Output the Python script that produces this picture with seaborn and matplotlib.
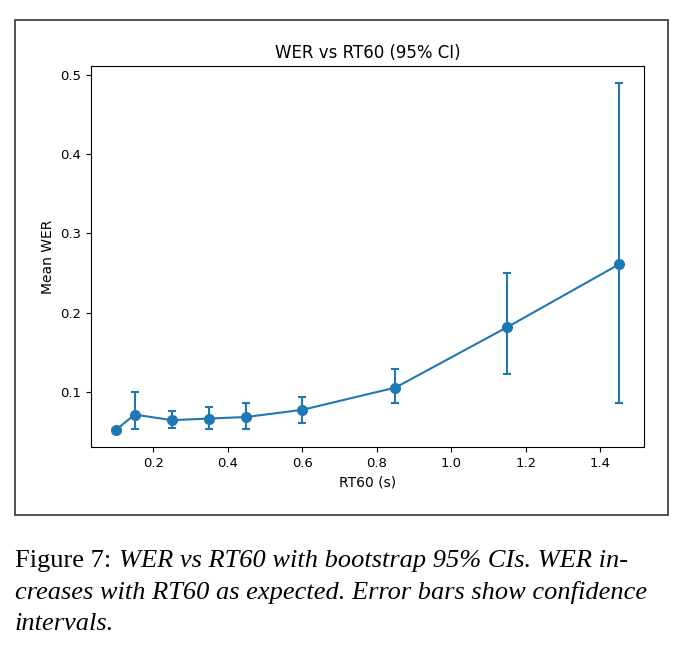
import matplotlib
matplotlib.use("Agg")
import matplotlib.pyplot as plt
import seaborn as sns
import pandas as pd
import numpy as np
from matplotlib.patches import Rectangle

rt60 = [0.10, 0.15, 0.25, 0.35, 0.45, 0.60, 0.85, 1.15, 1.45]
mean_wer = [0.053, 0.072, 0.065, 0.067, 0.069, 0.078, 0.106, 0.182, 0.261]
ci_low = [0.053, 0.054, 0.055, 0.054, 0.054, 0.062, 0.086, 0.123, 0.087]
ci_high = [0.053, 0.100, 0.077, 0.082, 0.086, 0.094, 0.130, 0.250, 0.489]

df = pd.DataFrame({"RT60 (s)": rt60, "Mean WER": mean_wer, "lo": ci_low, "hi": ci_high})

plt.rcParams["font.family"] = ["DejaVu Sans"]
fig = plt.figure(figsize=(6.85, 6.51), dpi=100)
ax = fig.add_axes([91/685, 1-447/651, (644-91)/685, (447-66)/651])

color = "#1f77b4"
yerr = np.array([df["Mean WER"] - df["lo"], df["hi"] - df["Mean WER"]])
ax.errorbar(df["RT60 (s)"], df["Mean WER"], yerr=yerr, fmt="none", ecolor=color,
            elinewidth=1.5, capsize=3, capthick=1.5)
sns.lineplot(data=df, x="RT60 (s)", y="Mean WER", marker="o", color=color,
             markersize=8, markeredgewidth=0, linewidth=1.5, ax=ax)
ax.set_title("WER vs RT60 (95% CI)", fontsize=12)
ax.set_xlabel("RT60 (s)", fontsize=10)
ax.set_ylabel("Mean WER", fontsize=10)
ax.tick_params(labelsize=9.5)
ax.set_xticks([0.2, 0.4, 0.6, 0.8, 1.0, 1.2, 1.4])
ax.set_yticks([0.1, 0.2, 0.3, 0.4, 0.5])

# outer frame around the figure image
fig.patches.append(Rectangle((15/685, 1-515/651), (668-15)/685, (515-20)/651,
                             transform=fig.transFigure, fill=False,
                             edgecolor="#333333", linewidth=1.2))

cap_kw = dict(fontsize=19, family=["Liberation Serif"], va="baseline", ha="left")
t0 = fig.text(15/685, 1-567/651, "Figure 7:", **cap_kw)
fig.canvas.draw()
bb = t0.get_window_extent()
x_it = (bb.x1 + 8) / fig.bbox.width
fig.text(x_it, 1-567/651,
         "WER vs RT60 with bootstrap 95% CIs. WER in-",
         **cap_kw, style="italic")
fig.text(15/685, 1-599/651,
         "creases with RT60 as expected. Error bars show confidence",
         **cap_kw, style="italic")
fig.text(15/685, 1-630/651, "intervals.", **cap_kw, style="italic")

fig.savefig("out.png", dpi=100)
